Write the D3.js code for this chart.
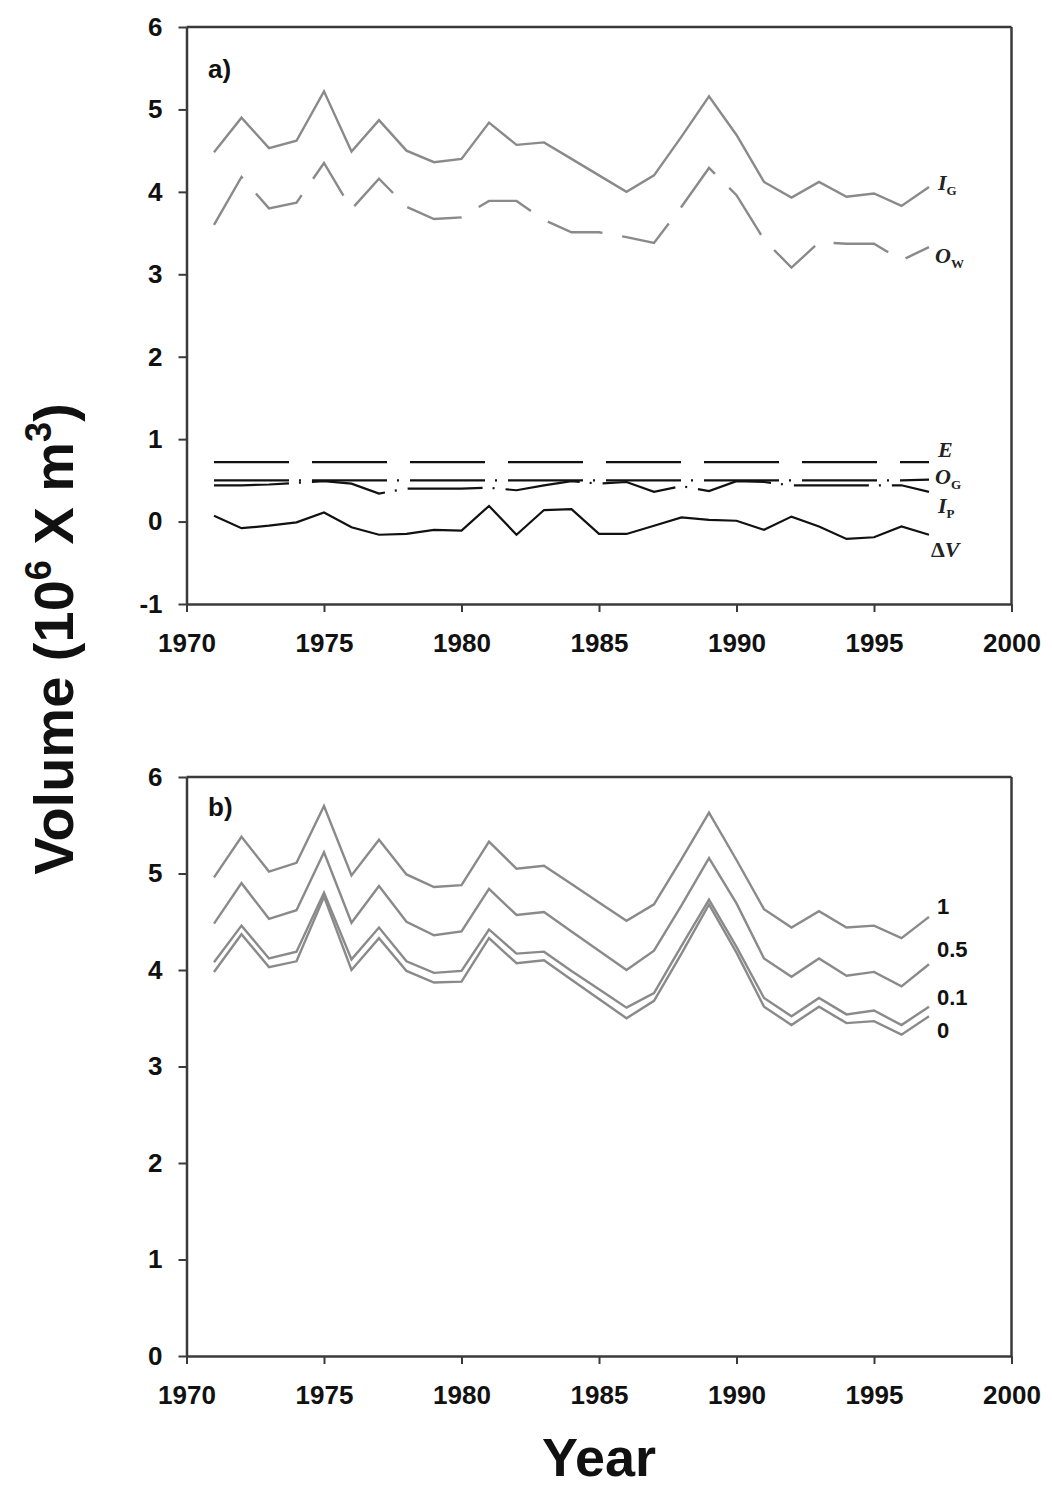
<!DOCTYPE html>
<html>
<head>
<meta charset="utf-8">
<script src="https://cdn.jsdelivr.net/npm/d3@7"></script>
<style>
  html, body { margin: 0; padding: 0; background: #fff; }
  svg { display: block; }
</style>
</head>
<body>
<script>
// ---------------- DATA ----------------
const years = [1971,1972,1973,1974,1975,1976,1977,1978,1979,1980,1981,1982,1983,1984,1985,1986,1987,1988,1989,1990,1991,1992,1993,1994,1995,1996,1997];

// Panel a
const inflowGW  = [4.48,4.90,4.53,4.62,5.22,4.49,4.87,4.50,4.36,4.40,4.84,4.57,4.60,4.40,4.20,4.00,4.20,4.67,5.16,4.69,4.12,3.93,4.12,3.94,3.98,3.83,4.06]; // I_G
const outflowW  = [3.60,4.18,3.80,3.87,4.35,3.79,4.16,3.82,3.67,3.69,3.89,3.89,3.66,3.51,3.51,3.45,3.38,3.82,4.29,3.96,3.42,3.08,3.39,3.37,3.37,3.17,3.33]; // O_W
const evap      = [0.72,0.72,0.72,0.72,0.72,0.72,0.72,0.72,0.72,0.72,0.72,0.72,0.72,0.72,0.72,0.72,0.72,0.72,0.72,0.72,0.72,0.72,0.72,0.72,0.72,0.72,0.72]; // E
const outflowGW = [0.50,0.50,0.50,0.50,0.50,0.50,0.50,0.50,0.50,0.50,0.50,0.50,0.50,0.50,0.50,0.50,0.50,0.50,0.50,0.50,0.50,0.50,0.50,0.50,0.50,0.50,0.51]; // O_G
const precip    = [0.44,0.44,0.45,0.47,0.49,0.46,0.34,0.40,0.40,0.40,0.41,0.38,0.44,0.49,0.46,0.48,0.36,0.43,0.37,0.49,0.48,0.44,0.44,0.44,0.44,0.44,0.36]; // I_P
const deltaV    = [0.07,-0.08,-0.05,-0.01,0.11,-0.07,-0.16,-0.15,-0.10,-0.11,0.19,-0.16,0.14,0.15,-0.15,-0.15,-0.05,0.05,0.02,0.01,-0.10,0.06,-0.06,-0.21,-0.19,-0.06,-0.16]; // ΔV

// Panel b
const scen1   = [4.96,5.38,5.02,5.11,5.70,4.98,5.35,4.99,4.86,4.88,5.33,5.05,5.08,4.89,4.70,4.51,4.68,5.15,5.63,5.14,4.63,4.44,4.61,4.44,4.46,4.33,4.55];
const scen05  = [4.48,4.90,4.53,4.62,5.22,4.49,4.87,4.50,4.36,4.40,4.84,4.57,4.60,4.40,4.20,4.00,4.20,4.67,5.16,4.69,4.12,3.93,4.12,3.94,3.98,3.83,4.06];
const scen01  = [4.08,4.46,4.12,4.19,4.80,4.11,4.44,4.09,3.97,3.99,4.42,4.17,4.19,3.99,3.80,3.61,3.76,4.25,4.73,4.24,3.71,3.52,3.71,3.54,3.58,3.43,3.62];
const scen0   = [3.98,4.37,4.03,4.09,4.76,4.00,4.33,3.99,3.87,3.88,4.33,4.07,4.10,3.90,3.70,3.50,3.68,4.17,4.68,4.18,3.62,3.43,3.62,3.45,3.47,3.33,3.52];

const xTicks  = [1970,1975,1980,1985,1990,1995,2000];
const yTicksA = [-1,0,1,2,3,4,5,6];
const yTicksB = [0,1,2,3,4,5,6];

// ---------------- DRAW ----------------
const W = 1052, H = 1491;
const svg = d3.select("body").append("svg").attr("width", W).attr("height", H);

const x = d3.scaleLinear().domain([1970, 2000]).range([186.5, 1011.5]);
const yA = d3.scaleLinear().domain([-1, 6]).range([604, 27]);
const yB = d3.scaleLinear().domain([0, 6]).range([1356, 777]);

const GRAY = "#8a8a8a", BLACK = "#111", FRAME = "#3a3a3a";
const tickFont = "'Liberation Sans', Arial, sans-serif";
const fmt = d => String(d); // plain hyphen minus, as in the reference

function frame(y, yTicks) {
  const g = svg.append("g");
  const [y0, y1] = y.range();
  g.append("line").attr("x1", x.range()[0]).attr("x2", x.range()[1]).attr("y1", y1).attr("y2", y1)
    .attr("stroke", FRAME).attr("stroke-width", 2.5);
  g.append("line").attr("x1", x.range()[1]).attr("x2", x.range()[1]).attr("y1", y1).attr("y2", y0)
    .attr("stroke", FRAME).attr("stroke-width", 2.5);
  const ax = g.append("g").attr("transform", `translate(${x.range()[0]},0)`)
    .call(d3.axisLeft(y).tickValues(yTicks).tickFormat(fmt).tickSize(8).tickSizeOuter(0).tickPadding(16));
  const bx = g.append("g").attr("transform", `translate(0,${y0})`)
    .call(d3.axisBottom(x).tickValues(xTicks).tickFormat(fmt).tickSize(8).tickSizeOuter(0).tickPadding(22));
  [ax, bx].forEach(a => {
    a.select(".domain").attr("stroke", FRAME).attr("stroke-width", 2.5);
    a.selectAll(".tick line").attr("stroke", FRAME).attr("stroke-width", 2);
    a.selectAll(".tick text").attr("font-family", tickFont).attr("font-weight", "bold")
      .attr("font-size", 26).attr("fill", "#111");
  });
  return g;
}

frame(yA, yTicksA);
frame(yB, yTicksB);

function drawLine(y, vals, color, width, dash) {
  const line = d3.line().x((d, i) => x(years[i])).y(d => y(d));
  const p = svg.append("path").datum(vals).attr("d", line)
    .attr("fill", "none").attr("stroke", color).attr("stroke-width", width)
    .attr("stroke-linejoin", "miter");
  if (dash) p.attr("stroke-dasharray", dash);
  return p;
}

// Panel a
drawLine(yA, inflowGW, GRAY, 2.4);
drawLine(yA, outflowW, GRAY, 2.4, "57,20");
drawLine(yA, evap, BLACK, 2.2, "75,23");
drawLine(yA, outflowGW, BLACK, 2.2, "75,10,2,11");
drawLine(yA, precip, BLACK, 2.2, "75,10,2,11");
drawLine(yA, deltaV, BLACK, 2.2);

// Panel b
drawLine(yB, scen1, GRAY, 2.4);
drawLine(yB, scen05, GRAY, 2.4);
drawLine(yB, scen01, GRAY, 2.4);
drawLine(yB, scen0, GRAY, 2.4);

// Panel letters
const letterFont = "'Liberation Sans', Arial, sans-serif";
svg.append("text").attr("x", 208).attr("y", 78).text("a)")
  .attr("font-family", letterFont).attr("font-weight", "bold").attr("font-size", 26).attr("fill", "#111");
svg.append("text").attr("x", 208).attr("y", 816).text("b)")
  .attr("font-family", letterFont).attr("font-weight", "bold").attr("font-size", 26).attr("fill", "#111");

// Series labels panel a (italic serif with subscripts)
const serif = "'Liberation Serif', 'Times New Roman', serif";
const last = years.length - 1;
const xl = x(years[last]) + 8;
function seriesLabel(xp, yp, main, sub, opts = {}) {
  const t = svg.append("text").attr("x", xp).attr("y", yp)
    .attr("font-family", serif).attr("font-weight", "bold").attr("font-size", 22).attr("fill", "#222");
  if (opts.delta) {
    t.append("tspan").text("Δ");
    t.append("tspan").attr("font-style", "italic").text(main);
  } else {
    t.append("tspan").attr("font-style", "italic").text(main);
  }
  if (sub) t.append("tspan").attr("font-size", 13).attr("dy", 5).text(sub);
}
seriesLabel(xl + 1, yA(inflowGW[last]) + 3, "I", "G");
seriesLabel(xl - 2, yA(outflowW[last]) + 16, "O", "W");
seriesLabel(xl + 1, yA(evap[last]) - 5, "E");
seriesLabel(xl - 2, yA(outflowGW[last]) + 4, "O", "G");
seriesLabel(xl + 1, yA(precip[last]) + 21, "I", "P");
seriesLabel(xl - 6, yA(deltaV[last]) + 22, "V", null, { delta: true });

// Series labels panel b
const sans = "'Liberation Sans', Arial, sans-serif";
const bLabels = [
  { txt: "1", vals: scen1, dy: -3 },
  { txt: "0.5", vals: scen05, dy: -7 },
  { txt: "0.1", vals: scen01, dy: -2 },
  { txt: "0", vals: scen0, dy: 22 }
];
bLabels.forEach(l => {
  svg.append("text").attr("x", xl).attr("y", yB(l.vals[last]) + l.dy).text(l.txt)
    .attr("font-family", sans).attr("font-weight", "bold").attr("font-size", 22).attr("fill", "#111");
});

// Axis titles
const yt = svg.append("text").attr("transform", "translate(73,639) rotate(-90)")
  .attr("text-anchor", "middle").attr("font-family", sans).attr("font-weight", "bold")
  .attr("font-size", 56).attr("fill", "#111");
yt.append("tspan").text("Volume (10");
yt.append("tspan").attr("font-size", 36).attr("dy", -22).text("6");
yt.append("tspan").attr("dy", 22).text(" X m");
yt.append("tspan").attr("font-size", 36).attr("dy", -22).text("3");
yt.append("tspan").attr("dy", 22).text(")");

svg.append("text").attr("x", (x.range()[0] + x.range()[1]) / 2).attr("y", 1476)
  .attr("text-anchor", "middle").attr("font-family", sans).attr("font-weight", "bold")
  .attr("font-size", 54).attr("fill", "#111").text("Year");
</script>
</body>
</html>
